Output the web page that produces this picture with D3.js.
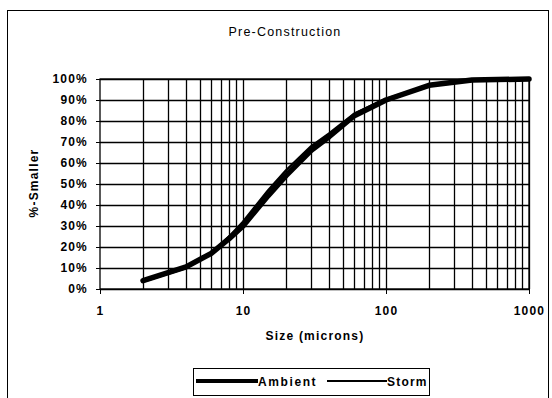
<!DOCTYPE html>
<html>
<head>
<meta charset="utf-8">
<script src="https://cdn.jsdelivr.net/npm/d3@7"></script>
<style>
  body { margin: 0; background: #fff; }
  svg { display: block; font-family: "Liberation Sans", Arial, sans-serif; }
  text { letter-spacing: 1.2px; }
</style>
</head>
<body>
<div id="chart"></div>
<script>
// Data
const sizes = [2, 4, 6, 8, 10, 15, 20, 30, 40, 60, 100, 200, 400, 1000];
const ambient = [4, 10.5, 17, 24, 30, 44.5, 54, 66, 72.5, 82.5, 90, 97, 99.5, 100];
const storm = [3.5, 10, 17, 25, 32, 47, 56.5, 68, 74, 83.5, 90.5, 97, 99.5, 100];
const yTicks = [0, 10, 20, 30, 40, 50, 60, 70, 80, 90, 100];
const xTicks = [1, 10, 100, 1000];

const width = 552, height = 398;
const margin = { top: 79, right: 23, bottom: 109, left: 100 };

const svg = d3.select("#chart").append("svg")
    .attr("width", width)
    .attr("height", height);

// outer frame
svg.append("rect")
    .attr("x", 7.5).attr("y", 10.5)
    .attr("width", 541).attr("height", 400)
    .attr("fill", "none").attr("stroke", "#000").attr("stroke-width", 1);

const x = d3.scaleLog().domain([1, 1000]).range([margin.left, width - margin.right]);
const y = d3.scaleLinear().domain([0, 100]).range([height - margin.bottom, margin.top]);

// minor vertical grid
const minor = [];
for (let d = 1; d < 1000; d *= 10) {
    for (let k = 2; k <= 10; k++) minor.push(d * k);
}
svg.append("g").selectAll("line")
    .data(minor)
    .enter().append("line")
    .attr("x1", d => Math.round(x(d)) + 0.5).attr("x2", d => Math.round(x(d)) + 0.5)
    .attr("y1", y(100)).attr("y2", y(0))
    .attr("stroke", "#000").attr("stroke-width", 1.3);

// horizontal grid
svg.append("g").selectAll("line")
    .data(yTicks)
    .enter().append("line")
    .attr("x1", x(1)).attr("x2", x(1000))
    .attr("y1", d => Math.round(y(d)) + 0.5).attr("y2", d => Math.round(y(d)) + 0.5)
    .attr("stroke", "#000").attr("stroke-width", 1.6);

// plot frame
svg.append("rect")
    .attr("x", x(1)).attr("y", y(100))
    .attr("width", x(1000) - x(1)).attr("height", y(0) - y(100))
    .attr("fill", "none").attr("stroke", "#000").attr("stroke-width", 1.3);

// axes
const yAxis = svg.append("g")
    .attr("transform", `translate(${x(1)},0)`)
    .call(d3.axisLeft(y).tickValues(yTicks).tickSize(4).tickFormat(d => d + "%"));
const xAxis = svg.append("g")
    .attr("transform", `translate(0,${y(0)})`)
    .call(d3.axisBottom(x).tickValues(xTicks).tickSize(5).tickPadding(12).tickFormat(d3.format("d")));

[yAxis, xAxis].forEach(a => {
    a.select(".domain").remove();
    a.selectAll("text")
        .attr("fill", "#000")
        .style("font-size", "12px")
        .style("font-weight", "bold")
        .style("font-family", "'Liberation Sans', Arial, sans-serif");
    a.selectAll("line").attr("stroke", "#000");
});
yAxis.selectAll("text").attr("x", -12);

// lines
const line = d3.line()
    .x((d, i) => x(sizes[i]))
    .y(d => y(d));

svg.append("path")
    .datum(ambient)
    .attr("d", line)
    .attr("fill", "none").attr("stroke", "#000")
    .attr("stroke-width", 5.5).attr("stroke-linejoin", "round").attr("stroke-linecap", "round");

svg.append("path")
    .datum(storm)
    .attr("d", line)
    .attr("fill", "none").attr("stroke", "#000")
    .attr("stroke-width", 2.5).attr("stroke-linejoin", "round");

// title and axis labels
svg.append("text")
    .attr("x", 285).attr("y", 36)
    .attr("text-anchor", "middle")
    .style("font-size", "12.5px")
    .text("Pre-Construction");

svg.append("text")
    .attr("x", 315).attr("y", 340)
    .attr("text-anchor", "middle")
    .style("font-size", "12px").style("font-weight", "bold")
    .text("Size (microns)");

svg.append("text")
    .attr("transform", "translate(38,183) rotate(-90)")
    .attr("text-anchor", "middle")
    .style("font-size", "12px").style("font-weight", "bold")
    .text("%-Smaller");

// legend
const lg = svg.append("g");
lg.append("rect")
    .attr("x", 193.5).attr("y", 368.5)
    .attr("width", 236).attr("height", 27)
    .attr("fill", "#fff").attr("stroke", "#000").attr("stroke-width", 1);
lg.append("line")
    .attr("x1", 196).attr("x2", 258).attr("y1", 381).attr("y2", 381)
    .attr("stroke", "#000").attr("stroke-width", 4);
lg.append("text")
    .attr("x", 258).attr("y", 386)
    .style("font-size", "12px").style("font-weight", "bold")
    .style("letter-spacing", "1.6px")
    .text("Ambient");
lg.append("line")
    .attr("x1", 327).attr("x2", 387).attr("y1", 381).attr("y2", 381)
    .attr("stroke", "#000").attr("stroke-width", 2);
lg.append("text")
    .attr("x", 387).attr("y", 386)
    .style("font-size", "12px").style("font-weight", "bold")
    .text("Storm");
</script>
</body>
</html>
